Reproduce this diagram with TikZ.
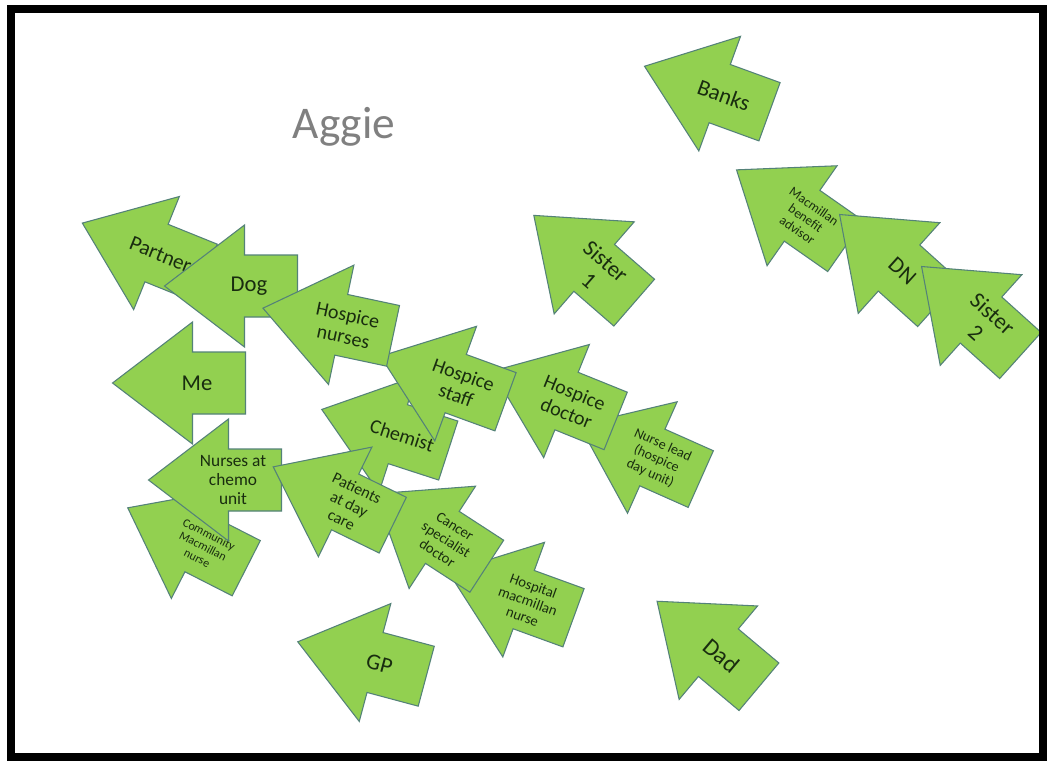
\documentclass[tikz,border=0pt]{standalone}
\usepackage{fontspec}
\setmainfont{Carlito}
\usepackage{xcolor}
\usepackage{tikz}

\definecolor{arrowgreen}{RGB}{146,208,80}
\definecolor{arrowedge}{RGB}{84,130,120}
\definecolor{labelgreen}{RGB}{25,45,15}
\definecolor{titlegrey}{RGB}{128,128,128}

\tikzset{
  arrowbody/.style={fill=arrowgreen, draw=arrowedge, line width=0.8pt, line join=miter},
  arrowtext/.style={text=labelgreen, align=center, inner sep=0pt},
}

% block arrow: name, centre, angle, font size, text
\newcommand{\greenarrow}[5]{%
  \begin{scope}[shift={(#2)}, rotate=#3]
    \filldraw[arrowbody] (-66.5,0) -- (13.5,61) -- (13.5,31) -- (66.5,31)
      -- (66.5,-31) -- (13.5,-31) -- (13.5,-61) -- cycle;
    \node[arrowtext, transform shape, font=\fontsize{#4}{\fpeval{#4*1.1}}\selectfont]
      (#1) at (18,0) {#5};
  \end{scope}}

\begin{document}
\begin{tikzpicture}[x=0.75pt, y=-0.75pt]
    \useasboundingbox (0,0) rectangle (1052,764);
    \fill[white] (0,0) rectangle (1052,764);

    \node[text=titlegrey, anchor=base, font=\fontsize{34}{40}\selectfont] (title) at (344,138) {Aggie};

    % right group
    \greenarrow{banks}{707,89}{-20}{17}{Banks}
    \greenarrow{macmillan}{791,208}{-35}{10}{Macmillan\\benefit\\advisor}
    \greenarrow{dn}{889,259}{-42}{17}{DN}
    \greenarrow{sistertwo}{971,311}{-42}{17}{Sister\\2}
    \greenarrow{sisterone}{584,259}{-41}{17}{Sister\\1}

    % left group
    \greenarrow{partner}{144,248}{-22}{16}{Partner}
    \greenarrow{dog}{231,286}{0}{17}{Dog}
    \greenarrow{me}{179,383}{0}{17}{Me}
    \greenarrow{community}{187,538}{-27}{9}{Community\\Macmillan\\nurse}
    \greenarrow{chemo}{215,480}{0}{13}{Nurses at\\chemo\\unit}

    % middle group
    \greenarrow{nurselead}{640,452}{-24}{10.5}{Nurse lead\\(hospice\\day unit)}
    \greenarrow{doctor}{554,396}{-22}{15}{Hospice\\doctor}
    \greenarrow{chemist}{385,430}{-18}{15}{Chemist}
    \greenarrow{staff}{443,379}{-20}{15}{Hospice\\staff}
    \greenarrow{nurses}{328,322}{-12}{15}{Hospice\\nurses}
    \greenarrow{hospital}{511,595}{-20}{11}{Hospital\\macmillan\\nurse}
    \greenarrow{cancer}{431,530}{-33}{11}{Cancer\\specialist\\doctor}
    \greenarrow{patients}{333,496}{-26}{12}{Patients\\at day\\care}

    % bottom
    \greenarrow{gp}{362,659}{-15}{17}{GP}
    \greenarrow{dad}{708,644}{-40}{18}{Dad}

    \draw[line width=6pt] (11,9) rectangle (1043,757);
\end{tikzpicture}
\end{document}
